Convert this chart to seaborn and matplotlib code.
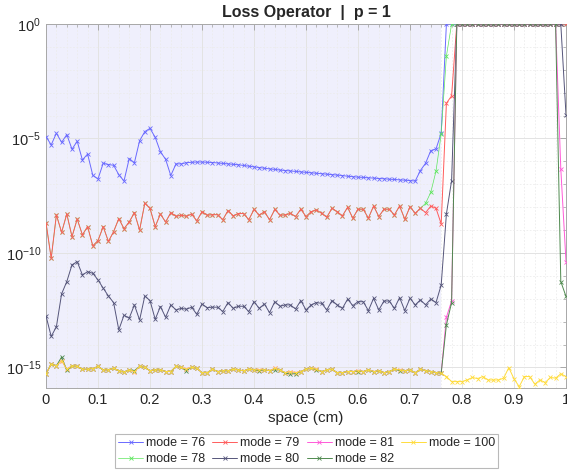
import numpy as np
import pandas as pd
import matplotlib
matplotlib.use("Agg")
import matplotlib.pyplot as plt
import matplotlib.ticker as mticker
import seaborn as sns

# ---------------- data (log10 of loss) ----------------
space = [round(i / 100, 2) for i in range(101)]

mode76 = ([-4.92, -5.28, -4.77, -5.17, -4.83, -5.47, -5.12, -5.94, -5.68, -6.61,
           -6.77, -6.08, -6.14, -6.17, -6.58, -6.86, -5.88, -6.06, -5.10, -4.70,
           -4.56, -4.95, -5.58, -5.91, -6.62, -6.11, -6.11, -6.06, -6.04, -6.03,
           -6.03,
           -6.04, -6.05, -6.07, -6.09, -6.11, -6.13, -6.15, -6.18, -6.21, -6.24,
           -6.27, -6.30, -6.33, -6.35, -6.38, -6.40, -6.42, -6.44, -6.46, -6.48,
           -6.50, -6.52, -6.54, -6.56, -6.58, -6.60, -6.62, -6.65, -6.67, -6.69,
           -6.70, -6.72, -6.73, -6.75, -6.76, -6.78, -6.79, -6.81, -6.82, -6.84,
           -6.86,
           -6.40, -6.08, -5.53, -5.46, -4.77]
          + [0.0] * 24)

mode79 = ([-8.68, -10.23, -8.34, -9.10, -8.30, -9.29, -8.52, -9.21, -8.85, -9.69,
           -9.46, -8.85, -9.50, -9.07, -8.50, -8.94, -8.65, -8.24, -9.00, -7.83,
           -8.05, -8.85, -8.30, -8.65, -8.24, -8.40, -8.35, -8.40, -8.30, -8.60,
           -8.20, -8.35, -8.33, -8.33, -8.55, -8.15, -8.38, -8.28, -8.28, -8.55,
           -8.10, -8.35, -8.20, -8.55, -8.10, -8.35,
           -8.34, -8.27, -8.41, -8.09, -8.41, -8.20, -8.12, -8.27, -8.44, -8.05,
           -8.20, -8.38, -8.01, -8.48, -8.09, -8.09, -8.48, -7.95, -8.41, -8.09,
           -8.09, -8.34, -7.95, -8.53, -7.98, -8.27, -8.05, -8.24, -7.95, -8.05,
           -8.73,
           -3.46, -3.14]
          + [0.0] * 22)

mode78 = (mode79[:72]
          + [-8.05, -7.83, -7.35, -6.43, -4.80, -1.40]
          + [0.0] * 23)

mode80 = ([-12.75, -13.65, -13.22, -11.79, -11.25, -10.52, -10.38, -10.96, -10.82, -10.89,
           -11.18, -11.54, -11.88, -12.17, -13.36, -12.72, -12.85, -12.27, -12.93, -11.88,
           -12.08, -12.90, -12.34, -12.81, -12.27, -12.49, -12.42, -12.46, -12.37, -12.68,
           -12.23, -12.39, -12.37, -12.37, -12.56, -12.17, -12.42, -12.33, -12.33, -12.56,
           -12.13, -12.42, -12.23, -12.61, -12.13, -12.33, -12.27,
           -12.27, -12.45, -12.08, -12.49, -12.27, -12.17, -12.20, -12.49, -12.08, -12.27,
           -12.42, -12.02, -12.30, -12.13, -12.13, -12.52, -11.98, -12.49, -12.10, -12.10,
           -12.42, -11.95, -12.52, -11.98, -12.27, -12.05, -12.27, -12.01, -12.17, -11.40,
           -8.30, -6.84]
          + [0.0] * 21
          + [-3.97])

mode100 = [-15.28, -14.86, -14.93, -14.70, -15.08, -14.93, -14.96, -15.08, -15.08, -15.05,
           -14.96, -15.11, -15.11, -15.04, -15.14, -15.21, -15.11, -15.18, -14.96, -15.00,
           -15.14, -15.11, -15.11, -15.18, -15.18, -14.96, -15.00, -15.08, -14.99, -15.04,
           -15.23, -15.23, -15.08, -15.18, -15.15, -15.15, -15.08, -15.11, -15.15, -15.08,
           -15.11, -15.11, -15.11, -15.14, -15.04, -15.11, -15.23,
           -15.18, -15.23, -15.18, -15.08, -15.04, -15.08, -15.18, -15.11, -15.08, -15.23,
           -15.23, -15.18, -15.18, -15.15, -15.18, -15.11, -15.18, -15.15, -15.23, -15.18,
           -15.08, -15.11, -15.15, -15.11, -15.23, -15.08, -15.15, -15.18, -15.23, -15.25,
           -15.40, -15.62, -15.62, -15.62, -15.55, -15.44, -15.49, -15.40, -15.55, -15.55,
           -15.55, -15.47, -15.01, -15.50, -15.84, -15.40, -15.40, -15.73, -15.55, -15.66,
           -15.44, -15.47, -15.28, -15.40]

mode81 = (mode100[:77]
          + [-12.81, -12.10]
          + [0.0] * 20
          + [-6.33, -10.38])

mode82 = ([-15.28, -14.86, -14.93, -14.55, -15.12, -14.93, -14.96, -15.08, -15.08, -15.05,
           -14.96, -15.11, -15.11, -15.04, -15.14, -15.21, -15.11, -15.14, -14.96, -15.00,
           -15.14, -15.11, -15.11, -15.18, -15.18, -14.96, -15.00, -15.14, -14.99, -15.04,
           -15.23, -15.23, -15.08, -15.18, -15.15, -15.15, -15.08, -15.11, -15.15, -15.08,
           -15.11, -15.15, -15.11, -15.14, -15.10, -15.11, -15.26,
           -15.28, -15.28, -15.18, -15.08, -15.04, -15.10, -15.18, -15.11, -15.08, -15.23,
           -15.23, -15.18, -15.18, -15.18, -15.18, -15.11, -15.20, -15.15, -15.23, -15.18,
           -15.08, -15.14, -15.15, -15.11, -15.23, -15.08, -15.15, -15.18, -15.23, -15.25,
           -13.14, -12.17]
          + [0.0] * 20
          + [-11.25, -11.90])

mode_labels = ["mode = 76", "mode = 78", "mode = 79", "mode = 80",
               "mode = 81", "mode = 82", "mode = 100"]
series = [mode76, mode78, mode79, mode80, mode81, mode82, mode100]
colors = ["#6a6aff", "#5ce65c", "#ff5c5c", "#55557a", "#ff5ad8", "#4f8a4f", "#ffdc3c"]
widths = [0.7, 0.5, 0.7, 0.7, 0.7, 0.7, 0.7]

title = "Loss Operator  |  p = 1"
xlabel = "space (cm)"
shade_end = 0.76

# ---------------- plotting ----------------
sns.set_style("white")
plt.rcParams["font.family"] = ["Liberation Sans", "DejaVu Sans"]
plt.rcParams["mathtext.default"] = "regular"

fig = plt.figure(figsize=(5.67, 4.72), dpi=100)
ax = fig.add_axes([46 / 567, 1 - 388 / 472, 520 / 567, 364 / 472])

ax.axvspan(0, shade_end, color="#efeffc", zorder=0.1, lw=0)

for lab, vals, col, lw in zip(mode_labels, series, colors, widths):
    y = 10.0 ** np.array(vals[:len(space)])
    sns.lineplot(x=space, y=y, ax=ax, color=col, marker="x", markersize=3,
                 markeredgecolor=col, markeredgewidth=0.6, linewidth=lw,
                 label=lab, zorder=3)

ax.set_yscale("log")
ax.set_xlim(0, 1)
ax.set_ylim(10 ** -15.9, 1)

ax.yaxis.set_major_locator(mticker.FixedLocator([1e-15, 1e-10, 1e-5, 1e0]))
ax.yaxis.set_minor_locator(mticker.FixedLocator([10.0 ** k for k in range(-16, 1)]))
ax.yaxis.set_major_formatter(mticker.FuncFormatter(
    lambda v, p: r"$10^{%d}$" % int(round(np.log10(v)))))
ax.yaxis.set_minor_formatter(mticker.NullFormatter())

ax.xaxis.set_major_locator(mticker.MultipleLocator(0.1))
ax.xaxis.set_minor_locator(mticker.MultipleLocator(0.02))
ax.xaxis.set_major_formatter(mticker.FuncFormatter(
    lambda v, p: ("%g" % round(v, 2))))

ax.set_axisbelow(True)
ax.grid(which="major", color="#e3e3e3", linewidth=0.7, zorder=0.5)
ax.grid(which="minor", color="#ececec", linewidth=0.6, linestyle=(0, (2, 2)), zorder=0.5)

ax.tick_params(which="both", direction="in", colors="#a0a0a0",
               labelcolor="#262626", labelsize=10.5, top=True, right=True)
ax.tick_params(which="major", length=4, width=0.6)
ax.tick_params(which="minor", length=2, width=0.5)
for sp in ax.spines.values():
    sp.set_color("#a8a8a8")
    sp.set_linewidth(0.7)

ax.set_title(title, fontsize=11.5, fontweight="bold", pad=5)
ax.set_xlabel(xlabel, fontsize=11, color="#262626", labelpad=3)
ax.set_ylabel("")

leg = ax.legend(loc="upper center", bbox_to_anchor=(0.5406, 1 - 434 / 472),
                bbox_transform=fig.transFigure, ncol=4, fontsize=9,
                frameon=True, fancybox=False, edgecolor="#a8a8a8",
                handlelength=2.0, handletextpad=0.25, columnspacing=0.55,
                borderpad=0.25, labelspacing=0.3, borderaxespad=0)
leg.get_frame().set_linewidth(0.8)

fig.savefig("out.png", dpi=100)
